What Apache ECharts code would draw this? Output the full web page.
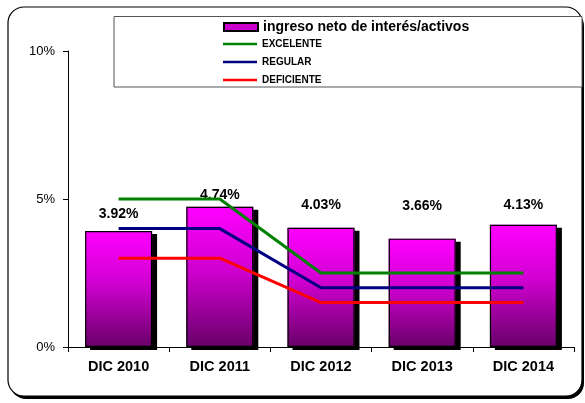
<!DOCTYPE html>
<html>
<head>
<meta charset="utf-8">
<script src="https://cdn.jsdelivr.net/npm/echarts@6/dist/echarts.min.js"></script>
<style>
html,body{margin:0;padding:0;background:#fff;}
#c{width:585px;height:403px;}
</style>
</head>
<body>
<div id="c"></div>
<script>
var categories = ['DIC 2010', 'DIC 2011', 'DIC 2012', 'DIC 2013', 'DIC 2014'];
var ingreso = [3.92, 4.74, 4.03, 3.66, 4.13];
var excelente = [5, 5, 2.5, 2.5, 2.5];
var regular = [4, 4, 2, 2, 2];
var deficiente = [3, 3, 1.5, 1.5, 1.5];
var yTicks = [0, 5, 10];
var labelDistance = [10, 5, 16, 26, 13];

var FONT = '"Liberation Sans", Arial, sans-serif';
var chart = echarts.init(document.getElementById('c'), null, {renderer: 'canvas'});

var barData = ingreso.map(function (v, i) {
  return {value: v, label: {distance: labelDistance[i]}};
});

var option = {
  backgroundColor: '#fff',
  animation: false,
  textStyle: {fontFamily: FONT},
  graphic: [
    {
      type: 'rect', z: -10, silent: true,
      shape: {x: 8, y: 7, width: 574, height: 389, r: 16},
      style: {fill: '#000', stroke: null},
      position: [2, 3]
    },
    {
      type: 'rect', z: -9, silent: true,
      shape: {x: 8, y: 7, width: 574, height: 389, r: 16},
      style: {fill: '#fff', stroke: '#000', lineWidth: 1.2}
    },
    {
      type: 'rect', z: -5, silent: true,
      shape: {x: 114, y: 16.5, width: 468, height: 70.5},
      style: {fill: '#fff', stroke: '#555', lineWidth: 1}
    }
  ],
  grid: {left: 68, right: 11, top: 51, bottom: 56, containLabel: false},
  legend: [
    {
      data: [{name: 'ingreso neto de interés/activos',
        itemStyle: {color: '#cc00cc', borderColor: '#000', borderWidth: 2}}],
      left: 223, top: 20, padding: 0, itemWidth: 34, itemHeight: 8, itemGap: 4,
      icon: 'rect',
      textStyle: {fontFamily: FONT, fontWeight: 'bold', fontSize: 14, color: '#000'}
    },
    {
      data: ['EXCELENTE', 'REGULAR', 'DEFICIENTE'],
      orient: 'vertical', left: 223, top: 38, padding: 0, itemWidth: 34, itemHeight: 2.5, itemGap: 6,
      icon: 'rect',
      textStyle: {fontFamily: FONT, fontWeight: 'bold', fontSize: 10, lineHeight: 12, color: '#000'}
    }
  ],
  xAxis: {
    type: 'category', data: categories,
    axisLine: {lineStyle: {color: '#000', width: 1}},
    axisTick: {show: true, alignWithLabel: false, length: 5, lineStyle: {color: '#000'}},
    axisLabel: {fontFamily: FONT, fontWeight: 'bold', fontSize: 14.5, color: '#000', margin: 12}
  },
  yAxis: {
    type: 'value', min: yTicks[0], max: yTicks[yTicks.length - 1], interval: 5,
    axisLine: {show: true, lineStyle: {color: '#000', width: 1}},
    axisTick: {show: true, length: 5, lineStyle: {color: '#000'}},
    splitLine: {show: false},
    axisLabel: {fontFamily: FONT, fontSize: 13, color: '#000', margin: 13,
      formatter: function (v) { return v + '%'; }}
  },
  series: [
    {
      name: 'ingreso neto de interés/activos',
      type: 'bar', data: barData, barWidth: 67, z: 2,
      itemStyle: {
        color: new echarts.graphic.LinearGradient(0, 0, 0, 1, [
          {offset: 0, color: '#ff00ff'},
          {offset: 0.45, color: '#d000d0'},
          {offset: 1, color: '#680068'}
        ]),
        borderWidth: 0,
        shadowColor: '#000', shadowOffsetX: 5, shadowOffsetY: 3, shadowBlur: 0
      },
      label: {show: true, position: 'top', fontFamily: FONT, fontWeight: 'bold',
        fontSize: 14, color: '#000',
        formatter: function (p) { return p.value.toFixed(2) + '%'; }}
    },
    {
      name: 'outline', type: 'bar', data: ingreso, barWidth: 67, barGap: '-100%', z: 3,
      silent: true,
      itemStyle: {color: 'rgba(0,0,0,0)', borderColor: '#000', borderWidth: 1.2}
    },
    {
      name: 'EXCELENTE', type: 'line', data: excelente, symbol: 'none', z: 5,
      itemStyle: {color: '#008000'}, lineStyle: {color: '#008000', width: 3}
    },
    {
      name: 'REGULAR', type: 'line', data: regular, symbol: 'none', z: 5,
      itemStyle: {color: '#000080'}, lineStyle: {color: '#000080', width: 3}
    },
    {
      name: 'DEFICIENTE', type: 'line', data: deficiente, symbol: 'none', z: 5,
      itemStyle: {color: '#ff0000'}, lineStyle: {color: '#ff0000', width: 3}
    }
  ]
};
chart.setOption(option);
</script>
</body>
</html>
